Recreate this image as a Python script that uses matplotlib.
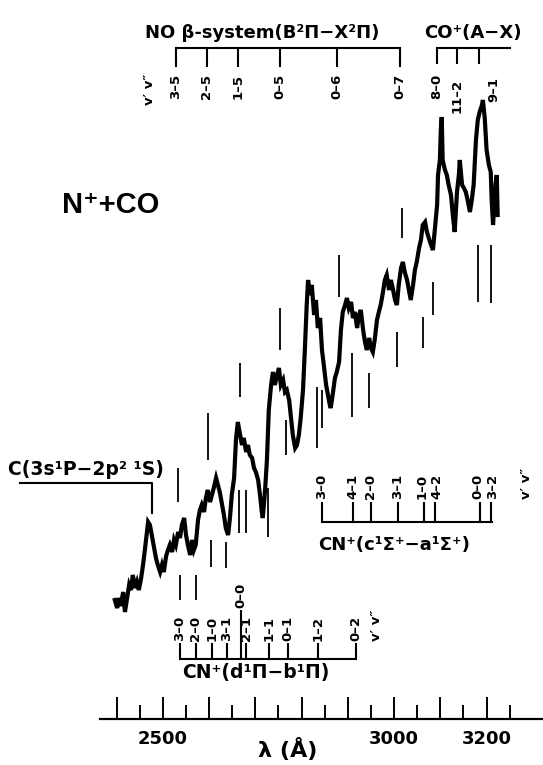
import matplotlib
matplotlib.use("Agg")
import matplotlib.pyplot as plt
from matplotlib.ticker import FixedLocator, FixedFormatter

plt.rcParams['font.family'] = ['DejaVu Sans']

# ---------------- data ----------------
# emission spectrum N+ + CO (wavelength in Angstrom, intensity arb. units)
wavelength = [2396, 2401, 2405, 2409, 2414, 2418, 2422, 2427, 2431, 2435, 2440, 2444, 2448, 2453,
              2457, 2461, 2466, 2468, 2472, 2476, 2481, 2485, 2489, 2494, 2498, 2502, 2507, 2511,
              2515, 2520, 2524, 2528, 2533, 2537, 2541, 2546, 2550, 2554, 2559, 2563, 2567, 2571,
              2576, 2580, 2584, 2589, 2593, 2597, 2602, 2606, 2610, 2615, 2619, 2623, 2628, 2632,
              2636, 2641, 2645, 2649, 2654, 2658, 2662, 2667, 2671, 2675, 2680, 2684, 2688, 2693,
              2697, 2701, 2706, 2710, 2714, 2716, 2721, 2725, 2729, 2734, 2738, 2742, 2747, 2751,
              2755, 2760, 2764, 2768, 2773, 2777, 2781, 2786, 2790, 2794, 2798, 2803, 2807, 2811,
              2814, 2818, 2822, 2827, 2831, 2835, 2840, 2844, 2848, 2853, 2857, 2861, 2863, 2868,
              2872, 2876, 2881, 2885, 2889, 2894, 2898, 2902, 2907, 2911, 2915, 2920, 2924, 2928,
              2933, 2937, 2941, 2946, 2950, 2954, 2958, 2963, 2967, 2971, 2976, 2980, 2984, 2989,
              2993, 2997, 3002, 3006, 3010, 3015, 3019, 3023, 3028, 3032, 3036, 3041, 3045, 3049,
              3054, 3058, 3062, 3067, 3071, 3075, 3080, 3084, 3088, 3093, 3095, 3099, 3101, 3103,
              3105, 3110, 3114, 3118, 3123, 3127, 3131, 3136, 3140, 3142, 3147, 3151, 3155, 3159,
              3164, 3168, 3172, 3177, 3181, 3185, 3190, 3192, 3196, 3200, 3205, 3209, 3211, 3214,
              3218, 3222, 3224]
intensity = [119, 111, 121, 113, 127, 107, 119, 134, 129, 144, 131, 137, 129, 141,
             154, 169, 189, 197, 194, 184, 171, 161, 154, 147, 154, 147, 163, 169,
             174, 167, 179, 174, 187, 181, 194, 201, 184, 174, 164, 179, 169, 174,
             199, 209, 214, 207, 221, 229, 217, 224, 231, 241, 234, 227, 214, 204,
             191, 184, 201, 224, 241, 279, 297, 284, 274, 281, 267, 274, 264, 261,
             251, 247, 239, 224, 207, 201, 229, 259, 309, 334, 347, 334, 344, 351,
             334, 339, 327, 329, 319, 301, 284, 271, 274, 284, 301, 329, 369, 414,
             439, 424, 434, 404, 419, 391, 401, 369, 354, 334, 324, 314, 311, 327,
             341, 347, 357, 389, 407, 414, 421, 411, 417, 401, 407, 391, 404, 409,
             389, 377, 369, 381, 371, 367, 379, 399, 407, 414, 427, 439, 444, 429,
             439, 431, 419, 414, 434, 451, 457, 447, 439, 429, 419, 434, 449, 457,
             471, 479, 494, 497, 487, 481, 474, 469, 489, 514, 544, 559, 589, 602,
             559, 549, 544, 534, 524, 504, 487, 527, 544, 559, 534, 531, 527, 519,
             507, 519, 534, 579, 599, 607, 614, 619, 601, 569, 554, 547, 519, 494,
             529, 544, 504]

# short vertical line markers (band positions) near the spectrum
marker_wl = [2533, 2597, 2667, 2753, 2881, 3017, 2537, 2571, 2604, 2636, 2664, 2680,
             2727, 2766, 2833, 2844, 2909, 2945, 3006, 3062, 3084, 3181, 3209]
marker_lo = [217, 259, 322, 369, 422, 481, 119, 119, 152, 151, 186, 186,
             182, 264, 271, 291, 302, 311, 352, 371, 404, 417, 416]
marker_hi = [251, 306, 356, 411, 464, 511, 144, 144, 179, 177, 229, 229,
             231, 299, 332, 329, 366, 346, 387, 402, 437, 474, 474]

# band systems
no_wl = [2528, 2595, 2662, 2753, 2876, 3012]
no_lab = ["3-5", "2-5", "1-5", "0-5", "0-6", "0-7"]
cop_wl = [3092, 3136, 3183]
cop_lab = ["8-0", "11-2", "9-1"]
cnca_wl = [2844, 2911, 2950, 3008, 3064, 3088, 3185, 3209]
cnca_lab = ["3-0", "4-1", "2-0", "3-1", "1-0", "4-2", "0-0", "3-2"]
cndb_wl = [2537, 2571, 2606, 2638, 2669, 2680, 2729, 2770, 2835, 2917]
cndb_lab = ["3-0", "2-0", "1-0", "3-1", "0-0", "2-1", "1-1", "0-1", "1-2", "0-2"]
c_line_wl = 2476

major_ticks = [2400, 2500, 2600, 2700, 2800, 2900, 3000, 3100, 3200]
minor_ticks = [2450, 2550, 2650, 2750, 2850, 2950, 3050, 3150, 3250]
tick_labels = ["", "2500", "", "", "", "", "3000", "", "3200"]

# ---------------- figure ----------------
W, H = 543, 765
fig = plt.figure(figsize=(W / 100, H / 100), dpi=100)
ax = fig.add_axes([100 / W, 46 / H, 443 / W, 719 / H])
ax.set_xlim(2364, 3322)
ax.set_ylim(0, 719)
for s in ["top", "left", "right"]:
    ax.spines[s].set_visible(False)
ax.spines["bottom"].set_linewidth(1.6)
ax.set_yticks([])

ax.xaxis.set_major_locator(FixedLocator(major_ticks))
ax.xaxis.set_major_formatter(FixedFormatter(tick_labels))
ax.xaxis.set_minor_locator(FixedLocator(minor_ticks))
ax.tick_params(axis="x", which="major", direction="in", length=16, width=1.4, pad=8,
               labelsize=13)
ax.tick_params(axis="x", which="minor", direction="in", length=10, width=1.4)
for t in ax.get_xticklabels():
    t.set_fontweight("bold")
ax.set_xlabel("λ (Å)", fontsize=16, fontweight="bold")
ax.xaxis.set_label_coords(188 / 443, -0.026)

K = "black"
ax.plot(wavelength, intensity, color=K, lw=3.0, solid_joinstyle="miter")
ax.vlines(marker_wl, marker_lo, marker_hi, color=K, lw=1.3)

lab_kw = dict(rotation=90, fontsize=9.5, fontweight="bold", ha="center")
vv = "v′ v″"
BIG = dict(fontweight="bold", va="baseline", ha="left")

def dash(s):
    return s.replace("-", "–")

# NO beta system bracket (ticks hang down)
ax.plot([no_wl[0], no_wl[-1]], [671, 671], color=K, lw=1.5, clip_on=False)
ax.vlines(no_wl, 652, 671, color=K, lw=1.5, clip_on=False)
for w, l in zip(no_wl, no_lab):
    ax.text(w, 645, dash(l), va="top", **lab_kw)
ax.text(2472, 645, vv, va="top", **lab_kw)
ax.text(2461, 681, "NO β-system(B²Π−X²Π)", fontsize=13, **BIG)

# CO+ (A-X)
ax.plot([cop_wl[0], 3250], [671, 671], color=K, lw=1.5, clip_on=False)
ax.vlines(cop_wl, 655, 671, color=K, lw=1.5, clip_on=False)
ax.text(cop_wl[0], 645, dash(cop_lab[0]), va="top", **lab_kw)
ax.text(cop_wl[1], 640, dash(cop_lab[1]), va="top", **lab_kw)
ax.text(3216, 642, dash(cop_lab[2]), va="top", **lab_kw)
ax.text(3066, 681, "CO⁺(A−X)", fontsize=13, **BIG)

# N+ + CO
ax.text(2282, 506, "N⁺+CO", fontsize=21, family=["Liberation Sans", "DejaVu Sans"], **BIG)

# C line
ax.plot([2191, c_line_wl, c_line_wl], [236, 236, 206], color=K, lw=1.5, clip_on=False)
ax.text(2165, 244, "C(3s¹P−2p² ¹S)", fontsize=13.5, **BIG)

# CN+ (c-a): ticks point up from baseline
ax.plot([cnca_wl[0], 3211], [197, 197], color=K, lw=1.5)
ax.vlines(cnca_wl, 197, 217, color=K, lw=1.5)
shift_ca = [0, 0, 0, 0, -4, 4, -4, 4]
for w, l, d in zip(cnca_wl, cnca_lab, shift_ca):
    ax.text(w + d, 220, dash(l), va="bottom", **lab_kw)
ax.text(3287, 220, vv, va="bottom", **lab_kw)
ax.text(2835, 169, "CN⁺(c¹Σ⁺−a¹Σ⁺)", fontsize=13, **BIG)

# CN+ (d-b)
ax.plot([cndb_wl[0], cndb_wl[-1]], [60, 60], color=K, lw=1.5)
for w, l in zip(cndb_wl, cndb_lab):
    if l == "0-0":
        ax.vlines(w, 60, 109, color=K, lw=1.5)
        ax.text(w, 111, dash(l), va="bottom", **lab_kw)
    else:
        ax.vlines(w, 60, 76, color=K, lw=1.5)
        ax.text(w, 78, dash(l), va="bottom", **lab_kw)
ax.text(2963, 78, vv, va="bottom", **lab_kw)
ax.text(2541, 41, "CN⁺(d¹Π−b¹Π)", fontsize=13.5, **BIG)

fig.savefig("out.png", dpi=100)
